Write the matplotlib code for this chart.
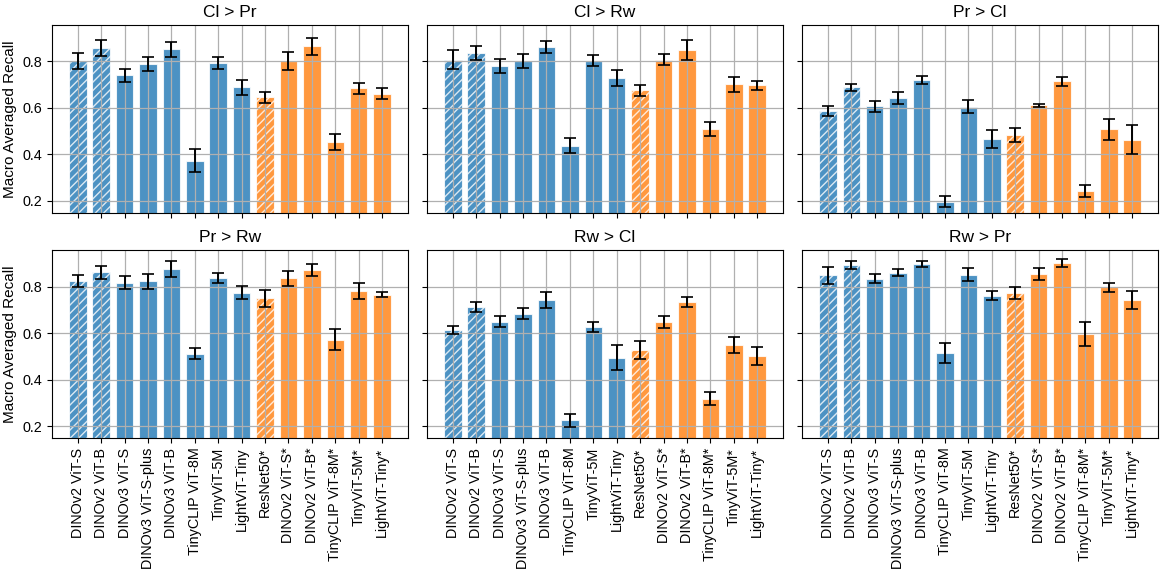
import numpy as np
import matplotlib.pyplot as plt

plt.rcParams["font.family"] = ["Liberation Sans", "DejaVu Sans"]

### DATA ###

models = [
    "DINOv2 ViT-S", "DINOv2 ViT-B", "DINOv3 ViT-S", "DINOv3 ViT-S-plus",
    "DINOv3 ViT-B", "TinyCLIP ViT-8M", "TinyViT-5M", "LightViT-Tiny",
    "ResNet50*", "DINOv2 ViT-S*", "DINOv2 ViT-B*", "TinyCLIP ViT-8M*",
    "TinyViT-5M*", "LightViT-Tiny*",
]
# first 8 models blue, last 6 orange; hatched = frozen baselines
group = ["blue"] * 8 + ["orange"] * 6
hatched = [True, True, False, False, False, False, False, False,
           True, False, False, False, False, False]

tasks = ["Cl > Pr", "Cl > Rw", "Pr > Cl", "Pr > Rw", "Rw > Cl", "Rw > Pr"]

cl_pr_mean = [0.800, 0.856, 0.739, 0.789, 0.850, 0.373, 0.793, 0.687,
              0.644, 0.800, 0.864, 0.454, 0.683, 0.661]
cl_pr_err = [0.034, 0.034, 0.027, 0.030, 0.032, 0.050, 0.025, 0.032,
             0.024, 0.039, 0.037, 0.035, 0.024, 0.024]

cl_rw_mean = [0.807, 0.837, 0.780, 0.801, 0.859, 0.437, 0.801, 0.727,
              0.674, 0.807, 0.847, 0.509, 0.700, 0.696]
cl_rw_err = [0.039, 0.030, 0.031, 0.029, 0.026, 0.032, 0.024, 0.033,
             0.025, 0.025, 0.042, 0.031, 0.033, 0.020]

pr_cl_mean = [0.586, 0.687, 0.607, 0.641, 0.719, 0.197, 0.604, 0.467,
              0.483, 0.610, 0.713, 0.243, 0.507, 0.463]
pr_cl_err = [0.023, 0.014, 0.024, 0.026, 0.019, 0.025, 0.028, 0.039,
             0.032, 0.006, 0.018, 0.027, 0.046, 0.062]

pr_rw_mean = [0.824, 0.861, 0.817, 0.823, 0.875, 0.512, 0.837, 0.774,
              0.749, 0.835, 0.871, 0.572, 0.780, 0.765]
pr_rw_err = [0.027, 0.028, 0.027, 0.033, 0.034, 0.023, 0.023, 0.029,
             0.035, 0.034, 0.026, 0.045, 0.034, 0.010]

rw_cl_mean = [0.614, 0.713, 0.650, 0.684, 0.743, 0.227, 0.627, 0.495,
              0.528, 0.648, 0.733, 0.318, 0.549, 0.502]
rw_cl_err = [0.018, 0.020, 0.025, 0.022, 0.035, 0.028, 0.023, 0.053,
             0.040, 0.025, 0.021, 0.028, 0.035, 0.039]

rw_pr_mean = [0.848, 0.892, 0.834, 0.860, 0.895, 0.516, 0.850, 0.760,
              0.772, 0.854, 0.901, 0.597, 0.797, 0.742]
rw_pr_err = [0.035, 0.016, 0.019, 0.016, 0.013, 0.042, 0.028, 0.019,
             0.025, 0.027, 0.018, 0.053, 0.019, 0.037]

means = [cl_pr_mean, cl_rw_mean, pr_cl_mean, pr_rw_mean, rw_cl_mean, rw_pr_mean]
errs = [cl_pr_err, cl_rw_err, pr_cl_err, pr_rw_err, rw_cl_err, rw_pr_err]

### PLOT ###

colors = {"blue": "tab:blue", "orange": "tab:orange"}

fig, axes = plt.subplots(2, 3, figsize=(11.64, 5.74), dpi=100, sharex=True, sharey=True)
fig.subplots_adjust(left=0.0447, right=0.9948, top=0.9564, bottom=0.2369,
                    wspace=0.054, hspace=0.202)

x = np.arange(len(models))

for i, ax in enumerate(axes.flat):
    for j in range(len(models)):
        ax.bar(
            x[j], means[i][j], width=0.75,
            color=colors[group[j]], alpha=0.8,
            edgecolor="white", linewidth=0.8,
            hatch="////" if hatched[j] else None,
        )
    ax.errorbar(x, means[i], yerr=errs[i], fmt="none", ecolor="black",
                elinewidth=1.4, capsize=4.5, capthick=1.2)
    ax.set_title(tasks[i], fontsize=12.5)
    ax.grid(True, color="#b0b0b0", linewidth=0.9)
    ax.tick_params(labelsize=10.4)

axes[0, 0].set_ylim(0.15, 0.955)
axes[0, 0].set_yticks([0.2, 0.4, 0.6, 0.8])
axes[0, 0].set_xlim(-1.1, 14.1)

for ax in axes[:, 0]:
    ax.set_ylabel("Macro Averaged Recall", fontsize=11)

for ax in axes[1, :]:
    ax.set_xticks(x)
    ax.set_xticklabels(models, rotation=90)

plt.savefig("out.png")
